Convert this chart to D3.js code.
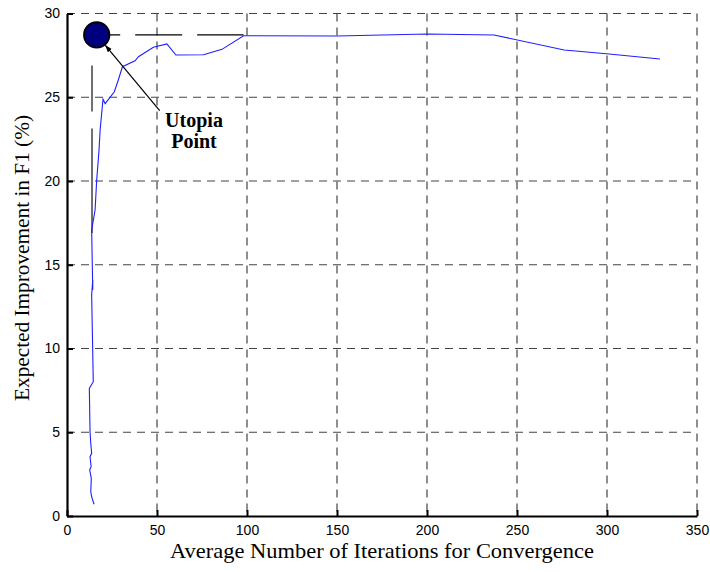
<!DOCTYPE html>
<html>
<head>
<meta charset="utf-8">
<script src="https://cdn.jsdelivr.net/npm/d3@7"></script>
<style>
  html, body { margin: 0; padding: 0; background: #fff; }
  svg { display: block; }
</style>
</head>
<body>
<svg id="chart" width="710" height="572"></svg>
<script>
// Trade-off curve: convergence iterations vs. expected F1 improvement
const iterations = [15.0, 13.7, 13.2, 13.5, 12.6, 13.4, 12.8, 13.7, 13.2, 12.8, 12.4, 14.6, 13.7, 14.3, 14.3,
  13.7, 15.6, 16.5, 17.8, 18.4, 20.0, 21.2, 26.3, 28.5, 30.8, 37.8, 39.7, 48.0, 55.5, 60.5, 75.9, 86.1, 98.1,
  150.0, 200.2, 237.2, 276.2, 301.2, 329.4];
const improvement = [0.70, 1.15, 1.45, 2.25, 2.75, 2.94, 3.54, 3.74, 4.34, 5.03, 7.62, 8.02, 13.2, 14.09, 13.5,
  17.07, 18.27, 20.06, 21.85, 23.04, 24.88, 24.62, 25.33, 26.03, 26.82, 27.18, 27.42, 27.98, 28.18, 27.52, 27.54, 27.86, 28.67,
  28.66, 28.78, 28.72, 27.82, 27.58, 27.28];

// Utopia point and its guide lines
const utopia = { x: 16.5, y: 28.72 };
const guideX = 13.9;          // best iteration count (vertical guide)
const guideXTop = 26.9, guideXBottom = 16.9;
const guideYEnd = 98.1;       // horizontal guide runs to where the curve levels off
const labelAnchor = { x: 51.5, y: 24.2 };

const xTicks = [0, 50, 100, 150, 200, 250, 300, 350];
const yTicks = [0, 5, 10, 15, 20, 25, 30];
const xTitle = "Average Number of Iterations for Convergence";
const yTitle = "Expected Improvement in F1 (%)";
const noteLines = ["Utopia", "Point"];

const svg = d3.select("#chart");
const plotLeft = 67, plotRight = 697, plotTop = 13.5, plotBottom = 516;

const x = d3.scaleLinear().domain([0, 350]).range([plotLeft, plotRight]);
const y = d3.scaleLinear().domain([0, 30]).range([plotBottom, plotTop]);

// dashed grid
const grid = svg.append("g").attr("stroke", "#444").attr("stroke-width", 1.2)
  .attr("stroke-dasharray", "8,6");
grid.selectAll("line.v").data(xTicks.filter(d => d > 0)).join("line")
  .attr("class", "v")
  .attr("x1", d => x(d)).attr("x2", d => x(d))
  .attr("y1", y(30)).attr("y2", y(0));
grid.selectAll("line.h").data(yTicks.filter(d => d > 0)).join("line")
  .attr("class", "h")
  .attr("x1", x(0)).attr("x2", x(350))
  .attr("y1", d => y(d)).attr("y2", d => y(d));

// axes with inward ticks
const tickFont = "'Liberation Sans', Arial, sans-serif";
const xAxis = svg.append("g").attr("transform", `translate(0,${plotBottom})`)
  .call(d3.axisBottom(x).tickValues(xTicks).tickSizeInner(-6).tickSizeOuter(0).tickPadding(9));
const yAxis = svg.append("g").attr("transform", `translate(${plotLeft},0)`)
  .call(d3.axisLeft(y).tickValues(yTicks).tickSizeInner(-6).tickSizeOuter(0).tickPadding(7));
[xAxis, yAxis].forEach(a => {
  a.select(".domain").attr("stroke", "#000").attr("stroke-width", 2.2);
  a.selectAll(".tick line").attr("stroke", "#000").attr("stroke-width", 2);
  a.selectAll(".tick text").attr("fill", "#000")
    .style("font-family", tickFont).style("font-size", "14px");
});

// vertical guide (grey, long dashes)
svg.append("line")
  .attr("x1", x(guideX)).attr("x2", x(guideX))
  .attr("y1", y(guideXTop)).attr("y2", y(guideXBottom))
  .attr("stroke", "#707070").attr("stroke-width", 2)
  .attr("stroke-dasharray", "46,17,300");

// horizontal guide (black, long dashes)
svg.append("line")
  .attr("x1", x(utopia.x)).attr("x2", x(guideYEnd))
  .attr("y1", y(utopia.y)).attr("y2", y(utopia.y))
  .attr("stroke", "#000").attr("stroke-width", 1.3)
  .attr("stroke-dasharray", "47,15")
  .attr("stroke-dashoffset", 23.5);

// curve
const line = d3.line().x(d => x(d[0])).y(d => y(d[1]));
svg.append("path")
  .datum(d3.zip(iterations, improvement))
  .attr("d", line)
  .attr("fill", "none")
  .attr("stroke", "#1f1fff")
  .attr("stroke-width", 1.1);

// annotation arrow
svg.append("defs").append("marker")
  .attr("id", "arrow").attr("viewBox", "0 0 10 10")
  .attr("refX", 10).attr("refY", 5)
  .attr("markerWidth", 6).attr("markerHeight", 6)
  .attr("orient", "auto-start-reverse")
  .append("path").attr("d", "M0,1.5 L10,5 L0,8.5 Z").attr("fill", "#000");

const cx = x(utopia.x), cy = y(utopia.y), r = 12.7;
const ax = x(labelAnchor.x), ay = y(labelAnchor.y);
const ang = Math.atan2(ay - cy, ax - cx);
svg.append("line")
  .attr("x1", ax).attr("y1", ay)
  .attr("x2", cx + Math.cos(ang) * (r + 0.5)).attr("y2", cy + Math.sin(ang) * (r + 0.5))
  .attr("stroke", "#000").attr("stroke-width", 1.2)
  .attr("marker-end", "url(#arrow)");

// utopia marker
svg.append("circle")
  .attr("cx", cx).attr("cy", cy).attr("r", r)
  .attr("fill", "#00007f").attr("stroke", "#000").attr("stroke-width", 1.8);

// note text
const serif = "'Liberation Serif', 'Times New Roman', serif";
svg.append("text")
  .attr("x", 194).attr("y", 127)
  .attr("text-anchor", "middle")
  .style("font-family", serif).style("font-weight", "bold").style("font-size", "20px")
  .selectAll("tspan").data(noteLines).join("tspan")
  .attr("x", 194).attr("dy", (d, i) => i === 0 ? 0 : 21)
  .text(d => d);

// axis titles
svg.append("text")
  .attr("x", 382).attr("y", 558)
  .attr("text-anchor", "middle")
  .attr("textLength", 424).attr("lengthAdjust", "spacingAndGlyphs")
  .style("font-family", serif).style("font-size", "22px")
  .text(xTitle);
svg.append("text")
  .attr("transform", "translate(29,258) rotate(-90)")
  .attr("text-anchor", "middle")
  .attr("textLength", 286).attr("lengthAdjust", "spacingAndGlyphs")
  .style("font-family", serif).style("font-size", "21px")
  .text(yTitle);
</script>
</body>
</html>
